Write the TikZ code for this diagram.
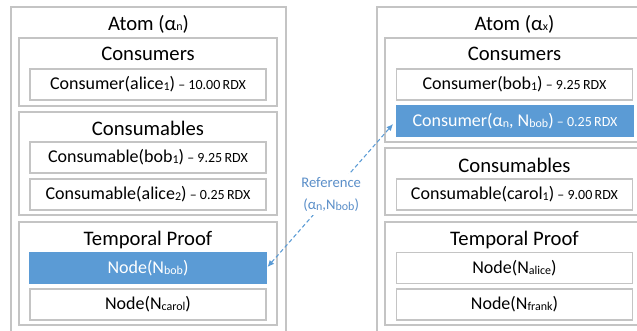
\documentclass[tikz,border=0pt]{standalone}
\usepackage{fontspec}
\setmainfont{Carlito}
\usetikzlibrary{arrows.meta,positioning}
\definecolor{atomGrey}{HTML}{C4C4C4}
\definecolor{atomBlue}{HTML}{5B9BD5}
\definecolor{refText}{HTML}{5B8FC9}
\newcommand{\sbs}[1]{\raisebox{-0.6pt}{\fontsize{9}{9}\selectfont #1}}
\newcommand{\rdx}[1]{{\fontsize{10.5}{12}\selectfont\ – #1\,RDX}}

\begin{document}
\begin{tikzpicture}[x=0.75pt,y=-0.75pt,
    atom/.style={draw=atomGrey,line width=0.9pt,minimum width=206.25pt,
                 minimum height=253.5pt,inner sep=0pt},
    group/.style={draw=atomGrey,line width=0.9pt,minimum width=193.5pt,inner sep=0pt},
    item/.style={draw=atomGrey,line width=0.9pt,fill=white,minimum width=177pt,
                 minimum height=23.25pt,inner sep=0pt,font=\fontsize{13.5}{16}\selectfont},
    hit/.style={item,draw=atomBlue,fill=atomBlue,text=white},
    ttl/.style={inner sep=0pt,font=\fontsize{15.5}{18}\selectfont},
    tip/.style={Latex[length=5pt,width=4.5pt]},
    refarr/.style={{Latex[length=5pt,width=4.5pt]}-{Latex[length=5pt,width=4.5pt]},
                   atomBlue,line width=0.8pt,dash pattern=on 3pt off 2pt}]

  \clip (0,0) rectangle (637,330);

  % atom alpha_n
  \node[atom] (atomN) at (148.5,176) {};
  \node[ttl] (atomNt) at (148.5,24) {Atom (α\sbs{n})};
  \node[group,minimum height=51pt] (consN) at (148,72) {};
  \node[ttl] (consNt) at (148,54) {Consumers};
  \node[item] (alice1) at (148,84.5) {Consumer(alice\sbs{1})\rdx{10.00}};
  \node[group,minimum height=77.25pt] (cblN) at (148,163.5) {};
  \node[ttl] (cblNt) at (148,128) {Consumables};
  \node[item] (bob1) at (148,157.5) {Consumable(bob\sbs{1})\rdx{9.25}};
  \node[item] (alice2) at (148,194.5) {Consumable(alice\sbs{2})\rdx{0.25}};
  \node[group,minimum height=77.25pt] (tpN) at (148,273.5) {};
  \node[ttl] (tpNt) at (148,240) {Temporal Proof};
  \node[hit] (nbob) at (148,268) {Node(N\sbs{bob})};
  \node[item] (ncarol) at (148,304.5) {Node(N\sbs{carol})};

  % atom alpha_x
  \node[atom] (atomX) at (514.5,176) {};
  \node[ttl] (atomXt) at (514.5,24) {Atom (α\sbs{x})};
  \node[group,minimum width=194.25pt,minimum height=78pt] (consX) at (514.5,90) {};
  \node[ttl] (consXt) at (514.5,54) {Consumers};
  \node[item] (bobX) at (514.5,84.5) {Consumer(bob\sbs{1})\rdx{9.25}};
  \node[hit,minimum width=178pt] (aref) at (515,121) {Consumer(α\sbs{n}, N\sbs{bob})\rdx{0.25}};
  \node[group,minimum width=194.25pt,minimum height=50.25pt] (cblX) at (514.5,181.5) {};
  \node[ttl] (cblXt) at (514.5,165) {Consumables};
  \node[item] (carol1) at (514.5,194.5) {Consumable(carol\sbs{1})\rdx{9.00}};
  \node[group,minimum width=194.25pt,minimum height=77.25pt] (tpX) at (514.5,273.5) {};
  \node[ttl] (tpXt) at (514.5,240) {Temporal Proof};
  \node[item] (nalice) at (514.5,268) {Node(N\sbs{alice})};
  \node[item] (nfrank) at (514.5,304.5) {Node(N\sbs{frank})};

  \draw[refarr,shorten <=1pt,shorten >=3pt] (nbob.east) -- (aref.west)
    node[midway,fill=white,inner sep=2pt,align=center,text=refText,
         font=\fontsize{11}{17}\selectfont] (reflbl) {Reference\\(α\sbs{n},N\sbs{bob})};
\end{tikzpicture}
\end{document}
